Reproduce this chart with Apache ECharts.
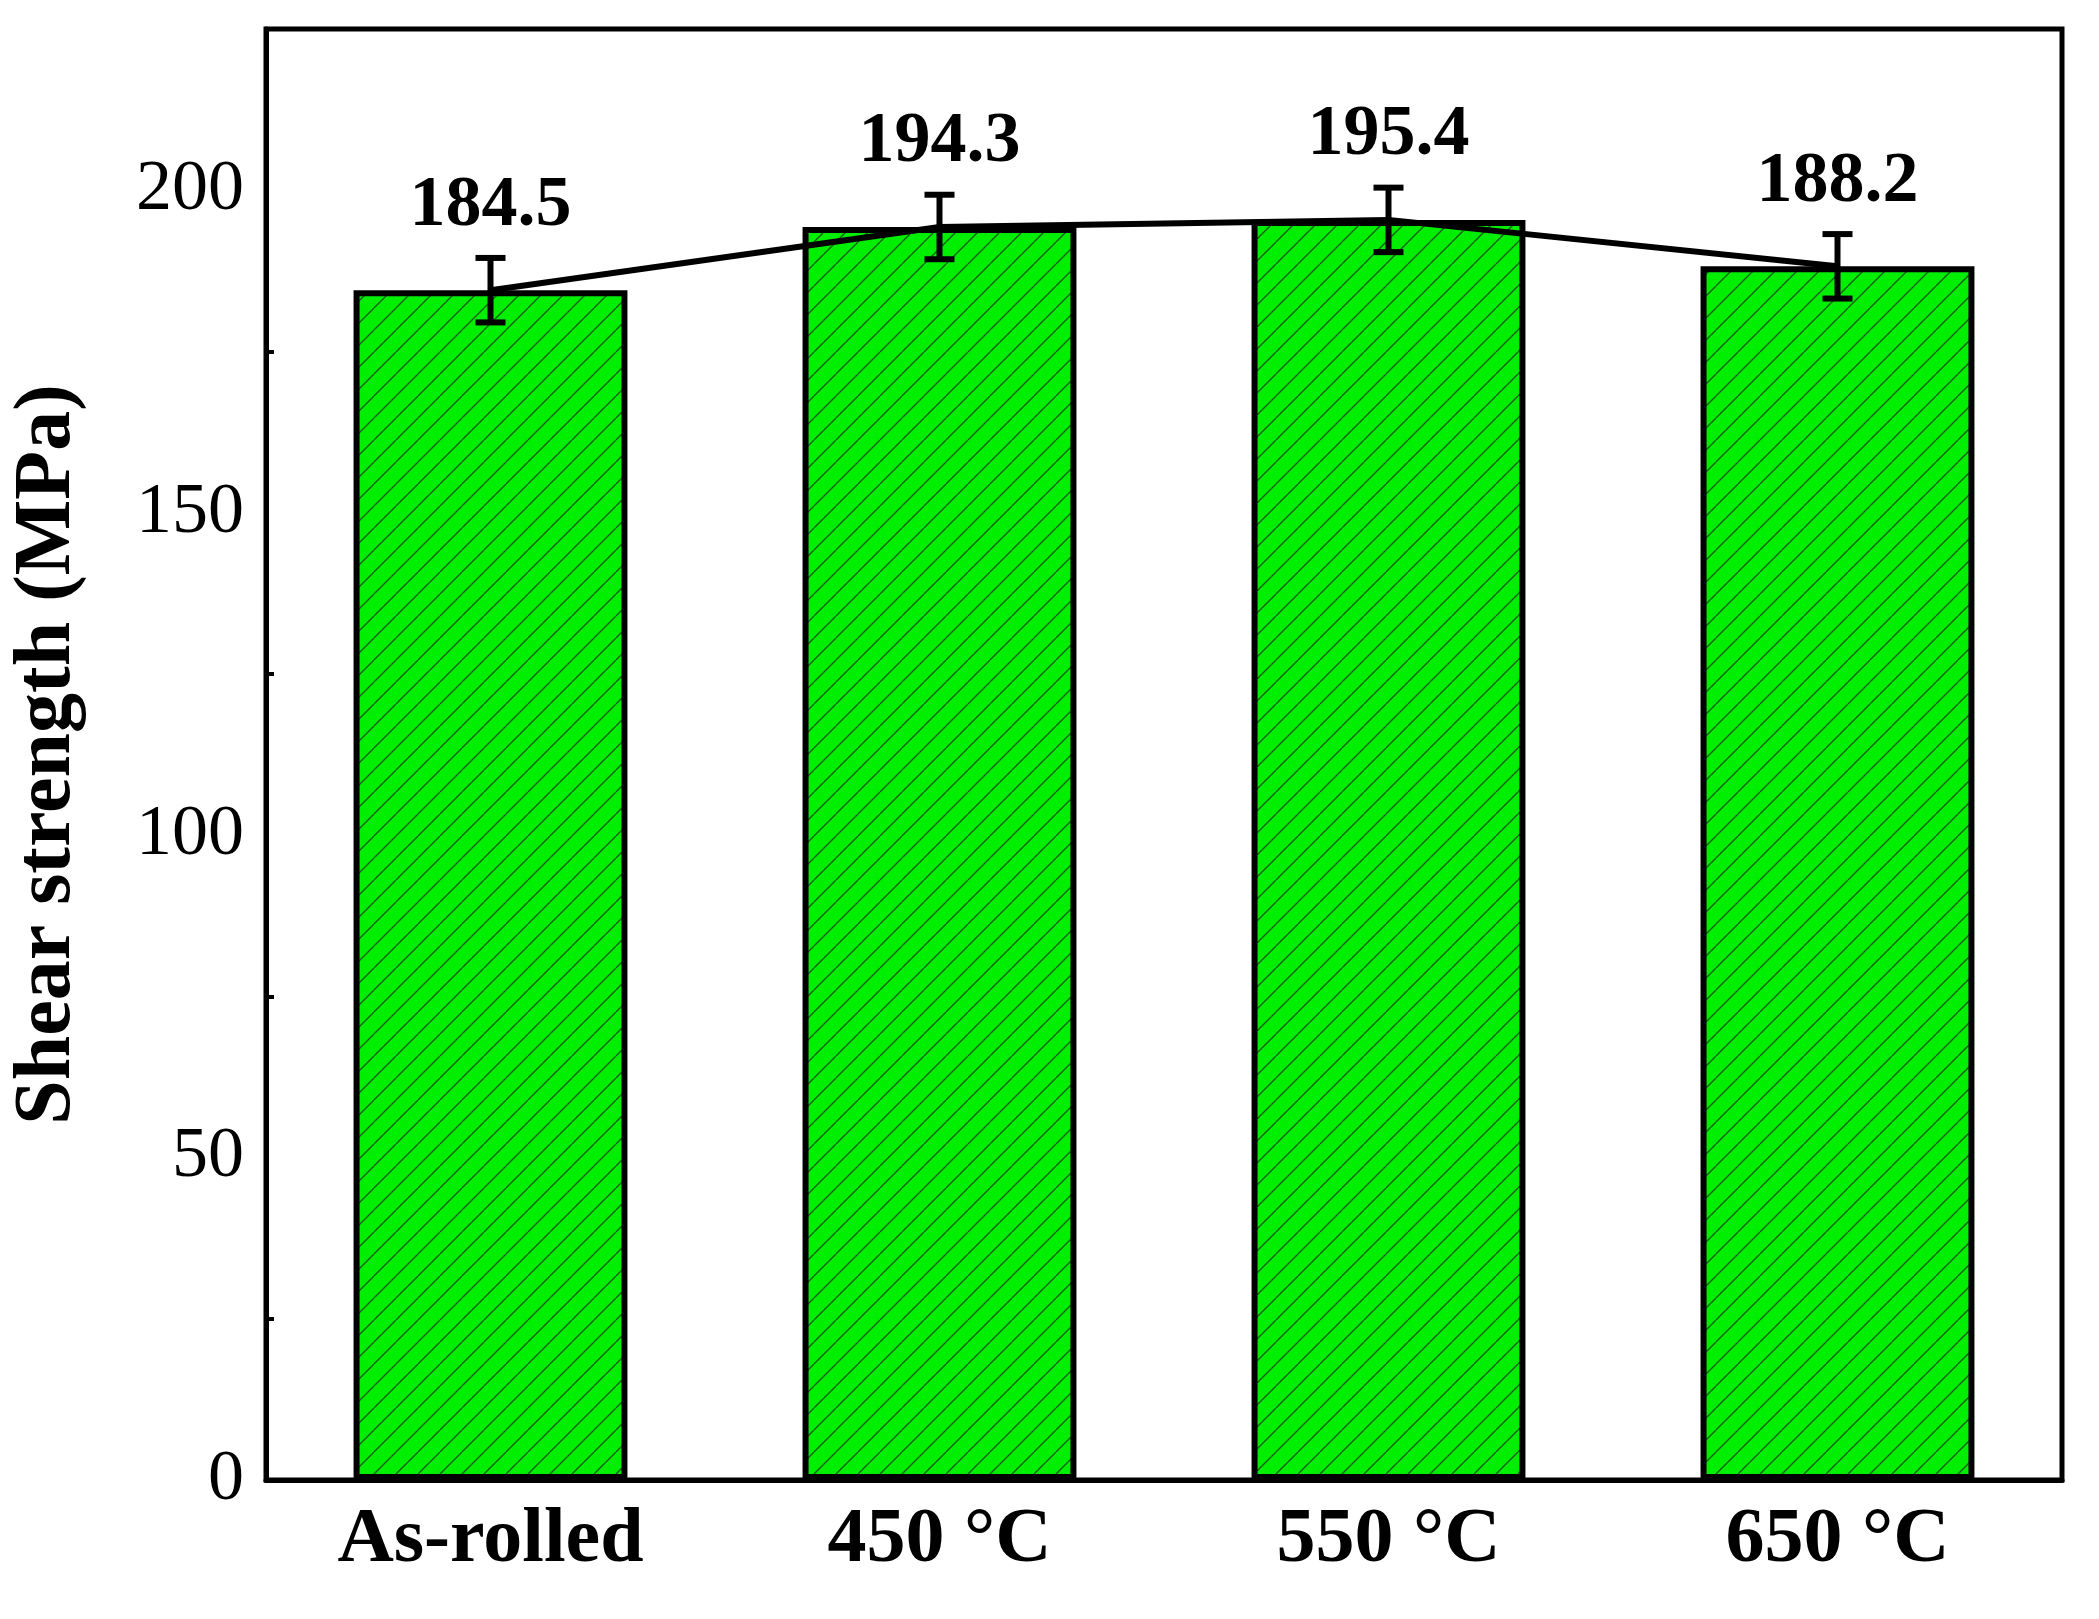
<!DOCTYPE html>
<html><head><meta charset="utf-8">
<script src="https://cdn.jsdelivr.net/npm/echarts@6/dist/echarts.min.js"></script>
<style>html,body{margin:0;padding:0;background:#fff}#c{width:2099px;height:1619px}</style>
</head><body><div id="c"></div>
<script>
const categories = ['As-rolled', '450 °C', '550 °C', '650 °C'];
const values = [184.5, 194.3, 195.4, 188.2];
const errors = [5, 5, 5, 5];
const yTicks = [0, 50, 100, 150, 200];

const pc = document.createElement('canvas');
pc.width = 22; pc.height = 22;
const g = pc.getContext('2d');
g.fillStyle = '#00ee00'; g.fillRect(0, 0, 22, 22);
g.strokeStyle = '#1a5a1a'; g.lineWidth = 1.3;
for (let o = -22; o <= 22; o += 22) { g.beginPath(); g.moveTo(o, 22); g.lineTo(o + 22, 0); g.stroke(); }

const font = 'Liberation Serif';
const chart = echarts.init(document.getElementById('c'));
chart.setOption({
  animation: false,
  grid: { left: 261, right: 37, top: 29, bottom: 139, show: true, borderColor: '#000', borderWidth: 5 },
  xAxis: {
    type: 'category', data: categories,
    axisLine: { lineStyle: { color: '#000', width: 5 } },
    axisTick: { inside: true, length: 10, lineStyle: { width: 4, color: '#000' } },
    axisLabel: { fontFamily: font, fontWeight: 'bold', fontSize: 78, color: '#000', margin: 22 }
  },
  yAxis: {
    type: 'value', min: 0, max: 225, interval: 50,
    name: 'Shear strength (MPa)', nameLocation: 'middle', nameGap: 178,
    nameTextStyle: { fontFamily: font, fontWeight: 'bold', fontSize: 80, color: '#000' },
    splitLine: { show: false },
    axisLine: { show: true, lineStyle: { color: '#000', width: 5 } },
    axisTick: { inside: true, length: 14, lineStyle: { width: 4, color: '#000' } },
    minorTick: { show: true, splitNumber: 2, length: 8, lineStyle: { width: 4, color: '#000' } },
    axisLabel: { fontFamily: font, fontSize: 72, color: '#000', margin: 22,
      formatter: v => yTicks.includes(v) ? String(v) : '' }
  },
  series: [
    { type: 'bar', data: values, barWidth: '61%',
      itemStyle: { color: { image: pc, repetition: 'repeat' }, borderColor: '#000', borderWidth: 6 } },
    { type: 'line', data: values, symbol: 'none', lineStyle: { color: '#000', width: 6 }, z: 5 },
    { type: 'custom', z: 6,
      data: values.map((v, i) => [i, v, errors[i]]),
      renderItem: (p, api) => {
        const i = api.value(0), v = api.value(1), e = api.value(2);
        const top = api.coord([i, v + e]), bot = api.coord([i, v - e]);
        const w = 15;
        const st = { stroke: '#000', lineWidth: 6 };
        return { type: 'group', children: [
          { type: 'line', shape: { x1: top[0], y1: top[1], x2: bot[0], y2: bot[1] }, style: st },
          { type: 'line', shape: { x1: top[0]-w, y1: top[1], x2: top[0]+w, y2: top[1] }, style: st },
          { type: 'line', shape: { x1: bot[0]-w, y1: bot[1], x2: bot[0]+w, y2: bot[1] }, style: st },
          { type: 'text', style: { text: v.toFixed(1), x: top[0], y: top[1] - 16, align: 'center', verticalAlign: 'bottom',
            font: 'bold 72px "Liberation Serif"', fill: '#000' } }
        ] };
      }
    }
  ]
});
</script></body></html>
